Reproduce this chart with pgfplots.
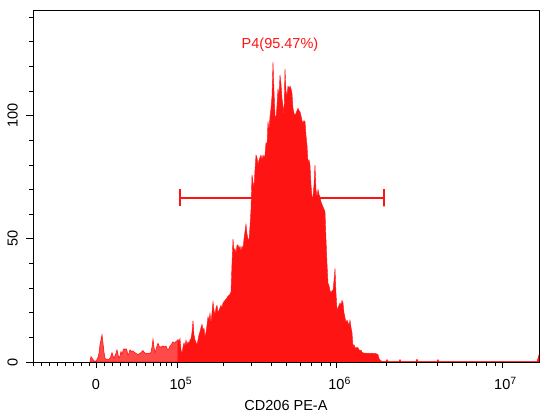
\documentclass[border=0pt]{standalone}
\usepackage{fontspec}
\setmainfont{Liberation Sans}
\usepackage{pgfplots}
\pgfplotsset{compat=1.18}
\definecolor{hdark}{RGB}{255,20,20}
\definecolor{hlight}{RGB}{255,74,74}
\definecolor{gatecol}{RGB}{255,20,20}
\newcommand\lf{\fontsize{14.5}{17}\selectfont}
\newcommand\sps[1]{10\rlap{\raisebox{4.5pt}{\fontsize{10.5}{11}\selectfont #1}}}
\begin{document}
\begin{tikzpicture}
\useasboundingbox (0,0) rectangle (550pt,420pt);
\begin{axis}[
 at={(33pt,58pt)}, anchor=south west, scale only axis,
 width=506pt, height=351.3pt,
 xmin=33, xmax=539, ymin=0, ymax=142.6,
 axis line style={line width=0.9pt},
 tick align=outside, xtick pos=bottom, ytick pos=left,
 major tick length=6.5pt, minor tick length=4pt,
 tick style={black, line width=0.8pt},
 xtick={96,177.7,336.5,502.3},
 xticklabels={0,\sps{5},\sps{6},\sps{7}},
 minor xtick={33,41,49,57,65.3,73.7,81.7,89.7,104,112,120,128,136.5,145,153,160,166,171.7,223.3,251,271,286.7,300,311.7,321.7,330,386.7,416,437.3,452.7,466,476.7,486.7,495},
 ytick={0,50,100},
 yticklabels={0,50,100},
 minor ytick={10,20,30,40,60,70,80,90,110,120,130,140},
 xticklabel style={font=\lf, anchor=base, inner sep=0pt},
 xticklabel shift=21pt,
 yticklabel style={font=\lf, rotate=90, anchor=south, inner sep=0pt},
 yticklabel shift=8.5pt,
 xlabel={CD206 PE-A},
 xlabel style={font=\lf, at={(axis description cs:0.5,0)}, anchor=base, yshift=-48.7pt},
]
% light (ungated) part
\addplot[draw=gatecol, line width=0.6pt, fill=hlight] coordinates {
(90,0)(91,2.2)(92,1.5)(93,1)(94,0.5)(95,0.3)(96,0.4)(97,1)(98,2)(99,3.5)(100,7)
(101,9)(102,11)(103,7.6)(104,4)(105,1.5)(106,1)(107,1.2)(108,1)(109,1.2)(110,1.5)
(111,2.5)(112,3.8)(113,2.5)(114,1.5)(115,2.5)(116,3.5)(117,4.9)(118,3)(119,1.5)(120,2.5)
(121,4.2)(122,3)(123,4.5)(124,5.4)(125,5)(126,5.4)(127,4.5)(128,2.8)(129,3.5)(130,4.9)
(131,4.5)(132,4.2)(133,4.5)(134,4)(135,3.8)(136,3.5)(137,3.2)(138,3)(139,3.3)(140,3.5)
(141,3.8)(142,4.2)(143,4.6)(144,4)(145,3.7)(146,3.5)(147,3.3)(148,3.5)(149,3.4)(150,3.5)
(151,4)(152,6)(153,9.2)(154,6)(155,3.8)(156,5)(157,6.5)(158,7.6)(159,6.5)(160,6.2)
(161,6)(162,6.4)(163,6.5)(164,6)(165,6.3)(166,6.5)(167,5.5)(168,4.9)(169,5.5)(170,6.5)
(171,6.9)(172,7.5)(173,8.2)(174,7.8)(175,7.8)(176,8.3)(177,8.6)(178,9)
} \closedcycle;
% gated part
\addplot[draw=hdark, line width=0.4pt, fill=hdark] coordinates {
(178,9)(179,8)(180,9.6)(181,5)(182,3.5)(183,6)(184,7.8)(185,6.5)(186,8.9)(187,7)
(188,8.2)(189,7.5)(190,8.9)(191,9.5)(192,12)(193,16.8)(194,11)(195,8.9)(196,8)(197,6.9)
(198,9)(199,11)(200,12.3)(201,14)(202,15.3)(203,13)(204,13.7)(205,10.3)(206,12)(207,15)
(208,18.4)(209,17)(210,19.8)(211,15.7)(212,20)(213,24.5)(214,21)(215,19.2)(216,22)(217,23)
(218,20)(219,21)(220,22)(221,23)(222,22)(223,24)(224,24.5)(225,25)(226,25.5)(227,26)
(228,26.8)(229,27)(230,27.5)(231,28.5)(232,40)(233,50)(234,45)(235,46)(236,44)(237,47.5)
(238,47.5)(239,46)(240,47)(241,45)(242,47)(243,46)(244,50)(245,53)(246,56)(247,52)
(248,50)(249,49.5)(250,55)(251,62)(252,76)(253,73)(254,71)(255,78)(256,84)(257,83)
(258,80)(259,82)(260,83)(261,84)(262,82)(263,84)(264,83)(265,84)(266,89)(267,88)
(268,97.6)(269,94)(270,99.6)(271,103)(272,108)(273,121.7)(274,110)(275,100)(276,99)(277,104)
(278,111)(279,108)(280,116.5)(281,113)(282,107)(283,104)(284,100)(285,119)(286,110)(287,108)
(288,112)(289,111)(290,112)(291,111)(292,109)(293,103)(294,101)(295,100)(296,101)(297,102)
(298,103)(299,102)(300,101.6)(301,100)(302,98)(303,97)(304,98)(305,97.6)(306,92)(307,88)
(308,81)(309,82)(310,80)(311,72)(312,67)(313,67)(314,72)(315,80)(316,70)(317,67)
(318,70)(319,68)(320,67)(321,65)(322,64)(323,63)(324,62)(325,61)(326,50)(327,40)
(328,32)(329,31)(330,29)(331,28)(332,29)(333,29)(334,33)(335,38)(336,28)(337,21)
(338,22)(339,23)(340,24)(341,23)(342,25)(343,24)(344,20)(345,18)(346,16)(347,17)
(348,16)(349,15)(350,17)(351,14)(352,12)(353,6)(354,7)(355,6)(356,5.5)(357,6)
(358,5.7)(359,5)(360,4.5)(361,4.8)(362,4)(363,3.8)(364,3.5)(365,3.7)(366,3.5)(367,3.5)
(368,3.6)(369,3.5)(370,3.4)(371,3.5)(372,3.6)(373,3.5)(374,3.3)(375,3.5)(376,3.4)(377,3.2)
(378,3)(379,1.5)(380,0.8)(381,0.5)(382,0.3)(386,0.3)(387,1)(388,0.3)(399,0.3)(400,1)
(401,0.3)(416,0.3)(417,1.2)(418,0.3)(437,0.3)(438,1)(439,0.3)(537,0.3)(538,1.5)(539,3)
} \closedcycle;
% gate marker
\addplot[draw=gatecol, line width=1.7pt, mark=none] coordinates {
(179.7,63.2)(179.7,70.2)(179.7,66.7)(384,66.7)(384,63.2)(384,70.2)};
\node[text=gatecol, font=\lf, anchor=center] at (axis cs:280,128.8) {P4(95.47\%)};
\end{axis}
\end{tikzpicture}
\end{document}
